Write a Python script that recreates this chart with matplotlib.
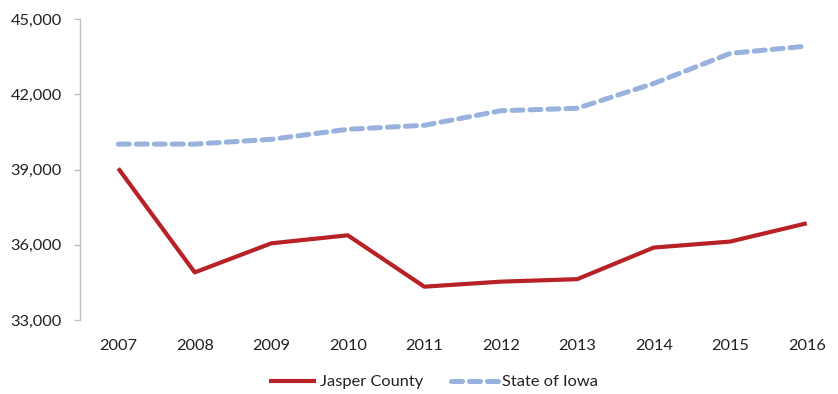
import matplotlib
matplotlib.use("Agg")
import matplotlib.pyplot as plt
from matplotlib.ticker import FuncFormatter, FixedLocator

plt.rcParams['font.family'] = ['Lato', 'DejaVu Sans']

years = ["2007", "2008", "2009", "2010", "2011", "2012", "2013", "2014", "2015", "2016"]
jasper_county = [39050, 34900, 36060, 36380, 34330, 34530, 34630, 35890, 36130, 36860]
state_of_iowa = [40020, 40020, 40210, 40610, 40770, 41350, 41450, 42440, 43640, 43930]
y_ticks = [33000, 36000, 39000, 42000, 45000]

fig = plt.figure(figsize=(8.38, 3.94), dpi=100)
ax = fig.add_axes([80 / 838, 1 - 320 / 394, (845 - 80) / 838, (320 - 19.3) / 394])

x = list(range(len(years)))
ax.plot(x, jasper_county, color="#B82125", lw=3.0, solid_capstyle="butt",
        label="Jasper County", zorder=3)
ax.plot(x, state_of_iowa, color="#98B2DD", lw=3.6, dashes=(2.2, 1.4),
        dash_capstyle="round", label="State of Iowa", zorder=2)

ax.set_xlim(-0.5, len(years) - 0.5)
ax.set_ylim(33000, 45000)
ax.yaxis.set_major_locator(FixedLocator(y_ticks))
ax.yaxis.set_major_formatter(FuncFormatter(lambda v, p: f"{int(v):,}"))
ax.set_xticks(x)
ax.set_xticklabels(years)

for side in ("top", "right", "bottom"):
    ax.spines[side].set_visible(False)
ax.spines["left"].set_color("#BFBFBF")
ax.spines["left"].set_linewidth(1.0)

ax.tick_params(axis="y", length=4, width=1, color="#BFBFBF", pad=9,
               labelsize=11.8, labelcolor="#222222")
ax.tick_params(axis="x", length=0, pad=14, labelsize=11.8, labelcolor="#222222")

leg = fig.legend(loc="center", bbox_to_anchor=(0.517, 1 - 382 / 394), ncol=2,
                 frameon=False, fontsize=11.8, handlelength=2.9,
                 handletextpad=0.2, columnspacing=1.7)
for t in leg.get_texts():
    t.set_color("#222222")

fig.savefig("out.png", dpi=100)
